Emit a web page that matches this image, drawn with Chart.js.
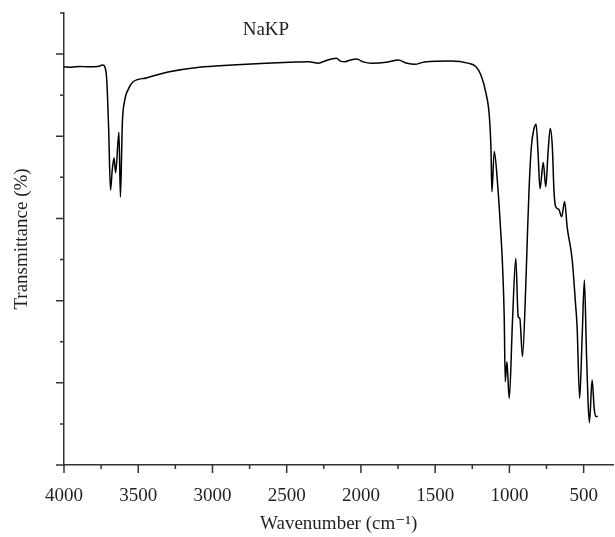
<!DOCTYPE html>
<html>
<head>
<meta charset="utf-8">
<script src="https://cdn.jsdelivr.net/npm/chart.js@4.4.0/dist/chart.umd.min.js"></script>
<style>
    html, body { margin: 0; padding: 0; background: #fff; overflow: hidden; }
    #irChart { display: block; }
</style>
</head>
<body>
<canvas id="irChart" width="618" height="537" style="width:618px;height:537px"></canvas>
<script>
// Wavenumber (cm-1), high to low
const wavenumbers = [
    4000, 3950, 3893, 3840, 3772, 3739, 3725, 3712, 3699, 3687, 3675, 3663, 3652, 3630, 3620,
    3607, 3591, 3569, 3536, 3446, 3357, 3290, 3089, 2868, 2640, 2486, 2352, 2285, 2238,
    2165, 2138, 2106, 2071, 2029, 1984, 1928, 1816, 1749, 1696, 1638, 1571, 1392, 1281,
    1225, 1192, 1158, 1135, 1124, 1118, 1102, 1080, 1058, 1046, 1035, 1028, 1017, 1001,
    979, 957, 941, 930, 912, 890, 879, 867, 852, 834, 820, 807, 794, 772, 755, 740, 725,
    711, 700, 689, 667, 648, 628, 611, 577, 555, 544, 527, 510, 495, 481, 470, 461, 443,
    428, 415, 405
];

// Transmittance (arbitrary %, axis has no numbers)
const transmittance = [
    96.9, 96.8, 97.0, 96.9, 97.0, 97.35, 96.9, 93.7, 81.5, 66.9, 71.8, 74.7, 71.1, 81.0, 65.2,
    83.2, 88.8, 91.3, 93.2, 94.2, 95.1, 95.7, 96.8, 97.35, 97.8, 98.0, 98.15, 97.8, 98.4,
    99.0, 98.3, 98.15, 98.55, 98.8, 98.1, 97.8, 98.1, 98.55, 97.85, 97.5, 98.1, 98.3, 97.8,
    96.9, 94.9, 90.5, 84.8, 76.7, 66.5, 76.3, 68.6, 56.5, 48.3, 36.1, 20.3, 25.1, 16.2,
    35.3, 50.3, 36.1, 35.7, 26.4, 43.4, 55.6, 67.7, 77.5, 81.9, 82.9, 75.9, 67.2, 73.6, 67.7, 75.9, 81.9,
    77.5, 66.9, 62.9, 62.2, 60.4, 64.1, 57.9, 49.9, 39.4, 33.6, 16.2, 31.2, 45.0, 27.3, 15.1, 10.3, 20.7,
    13.4, 11.75, 11.9
];

// Axis ticks
const xMajorTicks = [4000, 3500, 3000, 2500, 2000, 1500, 1000, 500];
const xMinorTicks = [3750, 3250, 2750, 2250, 1750, 1250, 750];
const yMajorTicks = [0, 20, 40, 60, 80, 100];
const yMinorTicks = [10, 30, 50, 70, 90, 110];

const axisColor = '#333333';
const textColor = '#231f20';
const serif = "'Liberation Serif', 'DejaVu Serif', serif";

/**
 * Draws tick marks (long and short) and the sample label
 */
const tickMarksPlugin = {
    id: 'tickMarks',
    afterDraw(chart) {
        const ctx = chart.ctx;
        const xs = chart.scales.x;
        const ys = chart.scales.y;
        const area = chart.chartArea;

        ctx.save();
        ctx.strokeStyle = axisColor;
        ctx.lineWidth = 1.5;
        ctx.beginPath();
        xMajorTicks.forEach(v => {
            const px = xs.getPixelForValue(v);
            ctx.moveTo(px, area.bottom);
            ctx.lineTo(px, area.bottom + 8);
        });
        xMinorTicks.forEach(v => {
            const px = xs.getPixelForValue(v);
            ctx.moveTo(px, area.bottom);
            ctx.lineTo(px, area.bottom + 4);
        });
        yMajorTicks.forEach(v => {
            const py = ys.getPixelForValue(v);
            ctx.moveTo(area.left, py);
            ctx.lineTo(area.left - 8, py);
        });
        yMinorTicks.forEach(v => {
            const py = ys.getPixelForValue(v);
            ctx.moveTo(area.left, py);
            ctx.lineTo(area.left - 4, py);
        });
        ctx.stroke();

        // sample name inside the plot
        ctx.fillStyle = textColor;
        ctx.font = '19px ' + serif;
        ctx.textAlign = 'center';
        ctx.textBaseline = 'middle';
        ctx.fillText('NaKP', xs.getPixelForValue(2640), ys.getPixelForValue(105.9));
        ctx.restore();
    }
};

function initIrChart() {
    const ctx = document.getElementById('irChart').getContext('2d');

    new Chart(ctx, {
        type: 'line',
        data: {
            datasets: [{
                label: 'NaKP',
                data: wavenumbers.map((w, i) => ({ x: w, y: transmittance[i] })),
                borderColor: '#000000',
                borderWidth: 1.5,
                pointRadius: 0,
                fill: false,
                cubicInterpolationMode: 'monotone'
            }]
        },
        options: {
            responsive: false,
            animation: false,
            layout: {
                padding: { left: 0, right: 2, top: 13, bottom: 0 }
            },
            plugins: {
                legend: { display: false },
                tooltip: { enabled: false },
                title: { display: false }
            },
            scales: {
                x: {
                    type: 'linear',
                    min: 300,
                    max: 4000,
                    reverse: true,
                    afterBuildTicks: scale => {
                        scale.ticks = xMajorTicks.map(v => ({ value: v }));
                    },
                    afterFit: scale => { scale.height = 72; },
                    grid: { display: false, drawTicks: false },
                    border: { display: true, color: axisColor, width: 1.5 },
                    ticks: {
                        autoSkip: false,
                        maxRotation: 0,
                        padding: 20,
                        color: textColor,
                        font: { family: serif, size: 19 },
                        callback: v => String(v)
                    },
                    title: {
                        display: true,
                        text: 'Wavenumber (cm⁻¹)',
                        color: textColor,
                        font: { family: serif, size: 19 },
                        padding: { top: 0, bottom: 2 }
                    }
                },
                y: {
                    min: 0,
                    max: 110,
                    afterFit: scale => { scale.width = 64; },
                    grid: { display: false, drawTicks: false },
                    border: { display: true, color: axisColor, width: 1.5 },
                    ticks: { display: false },
                    title: {
                        display: true,
                        text: 'Transmittance (%)',
                        color: textColor,
                        font: { family: serif, size: 19 },
                        padding: { top: 11, bottom: 0 }
                    }
                }
            }
        },
        plugins: [tickMarksPlugin]
    });
}

document.addEventListener('DOMContentLoaded', initIrChart);
</script>
</body>
</html>
